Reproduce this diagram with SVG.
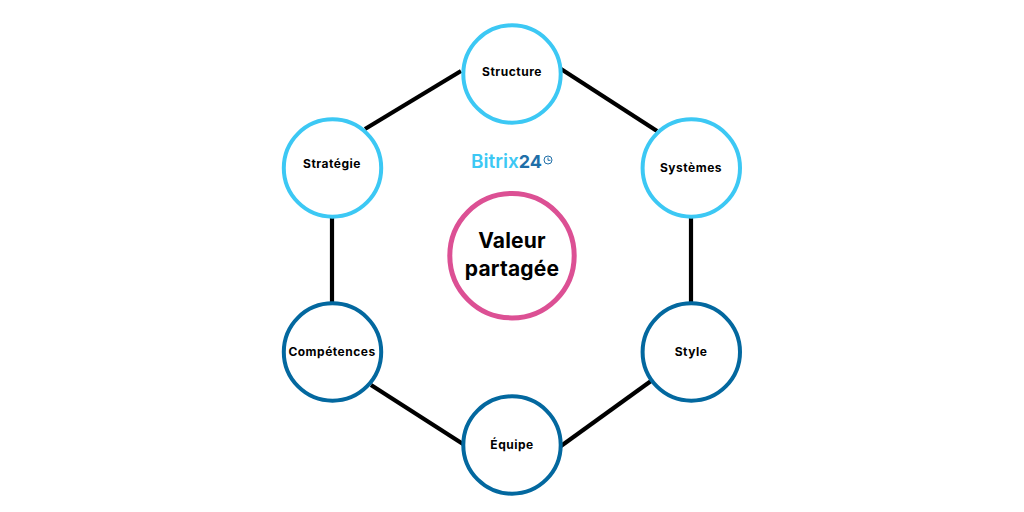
<svg xmlns="http://www.w3.org/2000/svg" width="1024" height="512" viewBox="0 0 1024 512">
<style>
.n{fill:#fff;stroke-width:4}
.l{stroke:#3cc8f4}
.d{stroke:#03689f}
text{font-family:Inter,"Noto Sans","Liberation Sans",sans-serif;font-weight:700;text-anchor:middle;fill:#000}
.t{font-size:12px;letter-spacing:.5px}
.c{font-size:21px;letter-spacing:.2px}
#connectors line{stroke:#000;stroke-width:4.2}
</style>
<rect width="1024" height="512" fill="#fff"/>
<g id="connectors">
<line x1="461" y1="71" x2="365" y2="129"/>
<line x1="561" y1="69" x2="657" y2="131"/>
<line x1="691" y1="218" x2="691" y2="302"/>
<line x1="651" y1="381" x2="561" y2="446"/>
<line x1="463" y1="444" x2="371" y2="385"/>
<line x1="332" y1="303" x2="332" y2="218"/>
</g>
<g id="structure"><circle class="n l" cx="512" cy="74" r="48.700"/><text class="t" x="512" y="76">Structure</text></g>
<g id="systemes"><circle class="n l" cx="691.300" cy="168" r="48.700"/><text class="t" x="691" y="172">Systèmes</text></g>
<g id="style"><circle class="n d" cx="691.300" cy="352" r="48.700"/><text class="t" x="691" y="356">Style</text></g>
<g id="equipe"><circle class="n d" cx="512" cy="445" r="48.700"/><text class="t" x="512" y="449">Équipe</text></g>
<g id="competences"><circle class="n d" cx="332.500" cy="352" r="48.700"/><text class="t" x="332" y="356">Compétences</text></g>
<g id="strategie"><circle class="n l" cx="332.500" cy="168" r="48.700"/><text class="t" x="332" y="168">Stratégie</text></g>
<g id="valeur"><circle cx="512" cy="255.700" r="62.200" fill="#fff" stroke="#dc5094" stroke-width="5"/><text class="c" x="512" y="248">Valeur</text><text class="c" x="512" y="276">partagée</text></g>
<g id="logo"><text x="471" y="168" style="font-size:19px;font-weight:600;text-anchor:start;fill:#3cc8f4">Bitrix<tspan style="fill:#1f6fa8;font-weight:700;font-size:18px">24</tspan></text>
<circle cx="548" cy="160" r="4" fill="none" stroke="#1f6fa8" stroke-width="1"/><path d="M548 157.500V160.300H550.500" fill="none" stroke="#1f6fa8" stroke-width="1"/></g>
</svg>
